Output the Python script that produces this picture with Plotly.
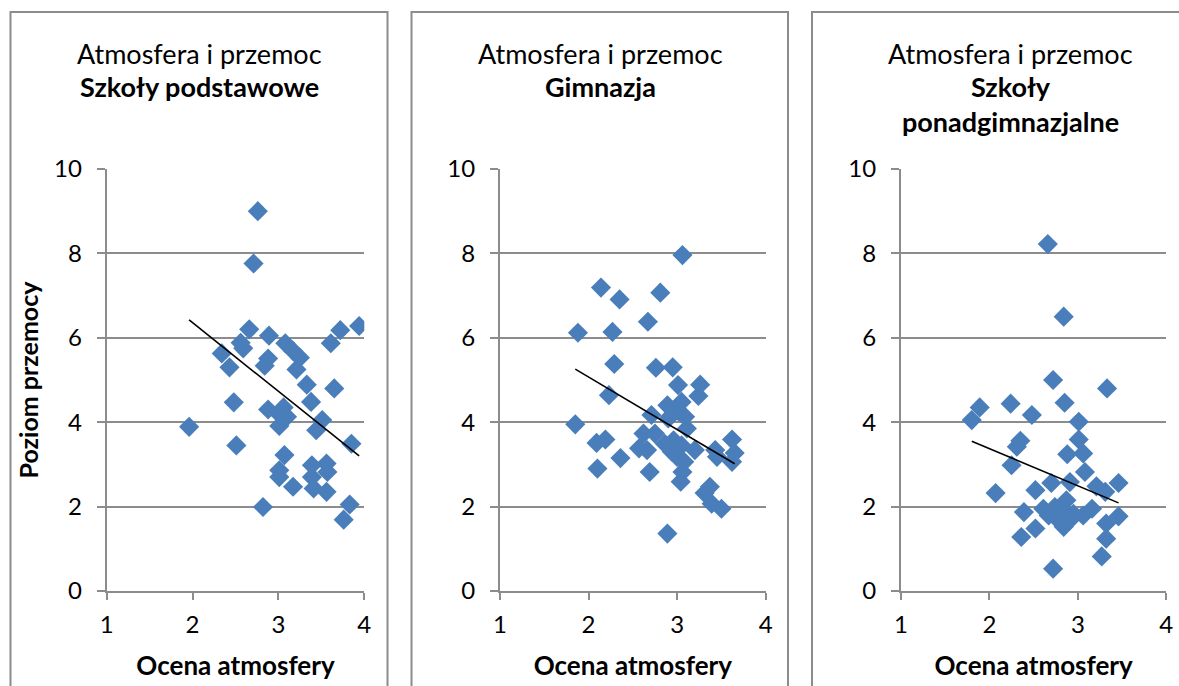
import numpy as np
import plotly.graph_objects as go

# ---------------- data ----------------
panel_titles = ["Szkoły podstawowe", "Gimnazja", "Szkoły<br>ponadgimnazjalne"]
main_title = "Atmosfera i przemoc"
x_title = "Ocena atmosfery"
y_title = "Poziom przemocy"

podst_x = [2.76, 2.71, 2.66, 2.89, 3.94, 3.72, 3.61, 2.56, 2.59, 2.34, 3.08, 3.17, 3.25, 2.88,
           2.84, 2.43, 3.21, 3.33, 3.65, 3.38, 2.48, 2.88, 3.06, 3.01, 3.10, 3.51, 3.44, 3.01,
           1.96, 3.85, 2.51, 3.07, 3.01, 3.01, 3.39, 3.56, 3.57, 3.39, 3.17, 3.41, 3.56, 2.82,
           3.83, 3.76]
podst_y = [9.00, 7.76, 6.20, 6.05, 6.28, 6.18, 5.87, 5.88, 5.75, 5.63, 5.87, 5.69, 5.53, 5.51,
           5.34, 5.30, 5.25, 4.89, 4.80, 4.48, 4.47, 4.30, 4.35, 4.19, 4.13, 4.05, 3.81, 3.91,
           3.89, 3.49, 3.45, 3.22, 2.86, 2.70, 2.98, 3.02, 2.82, 2.70, 2.47, 2.43, 2.35, 1.99,
           2.05, 1.69]

gimn_x = [3.06, 2.14, 2.35, 2.81, 2.67, 1.88, 2.27, 2.29, 2.76, 2.95, 3.01, 3.26, 3.24, 2.23,
          3.05, 2.89, 2.71, 3.02, 3.09, 2.90, 1.85, 3.11, 2.75, 2.62, 2.19, 2.09, 3.62, 2.86,
          2.96, 3.05, 3.20, 2.57, 2.66, 3.43, 3.65, 2.94, 3.00, 3.45, 3.62, 2.36, 3.08, 2.10,
          2.69, 3.06, 3.04, 3.37, 3.31, 3.39, 3.50, 2.89]
gimn_y = [7.96, 7.19, 6.91, 7.07, 6.38, 6.12, 6.14, 5.38, 5.29, 5.30, 4.88, 4.89, 4.62, 4.64,
          4.48, 4.40, 4.17, 4.25, 4.13, 4.09, 3.95, 3.85, 3.73, 3.73, 3.59, 3.51, 3.59, 3.49,
          3.57, 3.45, 3.34, 3.38, 3.34, 3.34, 3.27, 3.30, 3.18, 3.18, 3.06, 3.15, 3.06, 2.90,
          2.82, 2.82, 2.59, 2.47, 2.32, 2.07, 1.95, 1.36]

ponad_x = [2.66, 2.84, 2.72, 3.33, 2.85, 2.24, 1.89, 1.80, 2.48, 3.01, 2.35, 2.31, 3.01, 3.06,
           2.88, 2.25, 3.08, 2.07, 2.52, 2.70, 2.91, 3.21, 3.31, 3.46, 2.87, 2.61, 2.74, 2.84,
           2.95, 3.16, 3.06, 3.46, 2.39, 2.76, 2.84, 2.91, 3.32, 2.52, 2.36, 3.32, 3.27, 2.72,
           2.67]
ponad_y = [8.22, 6.50, 5.00, 4.80, 4.46, 4.44, 4.35, 4.05, 4.17, 4.01, 3.56, 3.42, 3.59, 3.26,
           3.24, 2.98, 2.82, 2.32, 2.39, 2.56, 2.58, 2.48, 2.35, 2.56, 2.15, 1.95, 1.99, 1.91,
           1.83, 1.95, 1.79, 1.77, 1.87, 1.72, 1.52, 1.68, 1.60, 1.48, 1.28, 1.24, 0.82, 0.53,
           1.79]

# linear trend lines as shown in the reference (slope, intercept)
trend_slope = [-1.628, -1.246, -0.880]
trend_intercept = [9.615, 7.563, 5.133]

x_ticks = [1, 2, 3, 4]
y_ticks = [0, 2, 4, 6, 8, 10]

series = [(podst_x, podst_y), (gimn_x, gimn_y), (ponad_x, ponad_y)]

# ---------------- layout geometry (pixels of a 1179x686 page) ----------------
W, H = 1179, 686
plot_px = [(106.7, 364.3), (500.0, 765.7), (901.0, 1166.3)]
frame_px = [(10.5, 387.5), (411.5, 788.0), (812.0, 1190.0)]
title_cx_px = [199.0, 600.0, 1011.0]
y_top_px, y_bot_px = 169.0, 591.0

FONT = "Lato"
GRID = "#8C8C8C"
MARKER = "#4A7EBB"

fig = go.Figure()

for i, (xs, ys) in enumerate(series):
    ax = "" if i == 0 else str(i + 1)
    fig.add_trace(go.Scatter(
        x=xs, y=ys, mode="markers",
        marker=dict(symbol="diamond", size=15.5, color=MARKER, line=dict(width=0)),
        xaxis="x" + ax, yaxis="y" + ax, showlegend=False, hoverinfo="x+y"))
    tx = np.array([min(xs), max(xs)])
    fig.add_trace(go.Scatter(
        x=tx, y=trend_slope[i] * tx + trend_intercept[i], mode="lines",
        line=dict(color="black", width=1.6),
        xaxis="x" + ax, yaxis="y" + ax, showlegend=False, hoverinfo="skip"))

    x0, x1 = plot_px[i]
    xdom = [x0 / W, x1 / W]
    ydom = [1 - y_bot_px / H, 1 - y_top_px / H]
    fig.layout["xaxis" + ax] = dict(
        domain=xdom, range=[1, 4], tickvals=x_ticks, anchor="y" + ax,
        automargin=False,
        showgrid=False, zeroline=False, showline=True, linecolor=GRID, linewidth=2,
        ticks="outside", ticklen=7, tickwidth=2, tickcolor=GRID,
        ticklabelstandoff=4,
        tickfont=dict(family=FONT, size=24, color="black"),
        title=dict(text="<b>" + x_title + "</b>", standoff=20,
                   font=dict(family=FONT, size=26, color="black")),
        fixedrange=True)
    fig.layout["yaxis" + ax] = dict(
        domain=ydom, range=[0, 10], tickvals=y_ticks, anchor="x" + ax,
        automargin=False,
        showgrid=True, gridcolor=GRID, gridwidth=2, zeroline=False,
        showline=True, linecolor=GRID, linewidth=2,
        ticks="outside", ticklen=8, tickwidth=2, tickcolor=GRID,
        ticklabelstandoff=10,
        tickfont=dict(family=FONT, size=24, color="black"),
        fixedrange=True)

    # chart frame
    f0, f1 = frame_px[i]
    fig.add_shape(type="rect", xref="paper", yref="paper",
                  x0=f0 / W, x1=f1 / W, y0=-0.05, y1=1 - 12 / H,
                  line=dict(color=GRID, width=2), fillcolor="rgba(0,0,0,0)", layer="below")

    # titles
    cx = title_cx_px[i] / W
    fig.add_annotation(x=cx, y=1 - 54 / H, xref="paper", yref="paper",
                       text=main_title, showarrow=False, xanchor="center", yanchor="middle",
                       font=dict(family=FONT, size=27, color="black"))
    fig.add_annotation(x=cx, y=1 - 86 / H if i < 2 else 1 - 104 / H,
                       xref="paper", yref="paper",
                       text="<b>" + panel_titles[i] + "</b>", showarrow=False,
                       xanchor="center", yanchor="middle",
                       font=dict(family=FONT, size=27, color="black"))

fig.layout.yaxis.title = dict(text="<b>" + y_title + "</b>", standoff=8,
                              font=dict(family=FONT, size=25, color="black"))

fig.update_layout(
    width=W, height=H,
    margin=dict(l=0, r=0, t=0, b=0, autoexpand=False),
    paper_bgcolor="white", plot_bgcolor="white",
    showlegend=False,
)

fig.write_html("out.html", config={"displayModeBar": False},
               post_script="document.body.style.margin='0';document.body.style.overflow='hidden';")
